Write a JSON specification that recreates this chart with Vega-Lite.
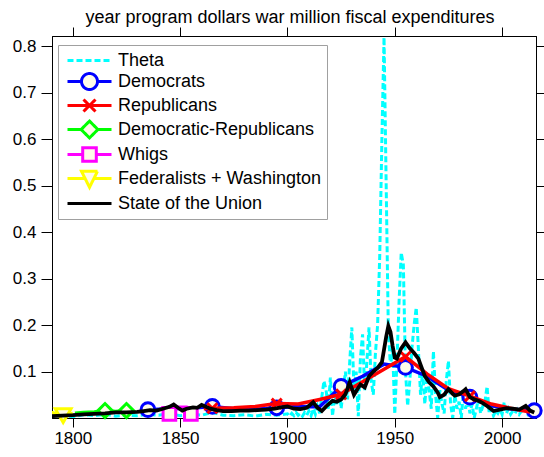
{
  "$schema": "https://vega.github.io/schema/vega-lite/v6.json",
  "width": 484,
  "height": 382,
  "autosize": {"type": "none"},
  "padding": {"left": 52, "top": 36, "right": 8, "bottom": 39},
  "background": "white",
  "title": {"text": "year program dollars war million fiscal expenditures", "fontSize": 18, "font": "Liberation Sans", "fontWeight": "normal", "color": "black", "offset": 0, "anchor": "middle", "dx": -4},
  "config": {
    "view": {"stroke": "black", "strokeWidth": 1},
    "axis": {"grid": false, "domainColor": "black", "domainWidth": 1, "tickColor": "black", "tickWidth": 1, "labelColor": "black", "labelFont": "Liberation Sans", "labelFontSize": 17, "title": null}
  },
  "datasets": {
    "d": [
      {"s":"Theta","x":1790,"y":0.004},{"s":"Theta","x":1795,"y":0.006},{"s":"Theta","x":1800,"y":0.003},{"s":"Theta","x":1805,"y":0.007},{"s":"Theta","x":1810,"y":0.005},{"s":"Theta","x":1815,"y":0.008},{"s":"Theta","x":1820,"y":0.004},{"s":"Theta","x":1825,"y":0.006},{"s":"Theta","x":1830,"y":0.005},{"s":"Theta","x":1835,"y":0.008},{"s":"Theta","x":1840,"y":0.006},{"s":"Theta","x":1845,"y":0.01},{"s":"Theta","x":1850,"y":0.005},{"s":"Theta","x":1855,"y":0.008},{"s":"Theta","x":1860,"y":0.006},{"s":"Theta","x":1865,"y":0.012},{"s":"Theta","x":1870,"y":0.006},{"s":"Theta","x":1875,"y":0.005},{"s":"Theta","x":1880,"y":0.007},{"s":"Theta","x":1885,"y":0.004},{"s":"Theta","x":1890,"y":0.008},{"s":"Theta","x":1895,"y":0.006},{"s":"Theta","x":1900,"y":0.009},
      {"s":"Theta","x":1901,"y":0.004},{"s":"Theta","x":1902,"y":0.01},{"s":"Theta","x":1903,"y":0.005},{"s":"Theta","x":1904,"y":0.012},{"s":"Theta","x":1905,"y":0.006},{"s":"Theta","x":1906,"y":0.01},{"s":"Theta","x":1907,"y":0.004},{"s":"Theta","x":1908,"y":0.012},{"s":"Theta","x":1909,"y":0.006},{"s":"Theta","x":1910,"y":0.015},{"s":"Theta","x":1911,"y":0.005},{"s":"Theta","x":1912,"y":0.02},{"s":"Theta","x":1913,"y":0.008},{"s":"Theta","x":1914,"y":0.025},{"s":"Theta","x":1915,"y":0.01},{"s":"Theta","x":1916,"y":0.045},{"s":"Theta","x":1917,"y":0.08},{"s":"Theta","x":1918,"y":0.06},{"s":"Theta","x":1919,"y":0.02},{"s":"Theta","x":1920,"y":0.087},
      {"s":"Theta","x":1921,"y":0.004},{"s":"Theta","x":1922,"y":0.05},{"s":"Theta","x":1923,"y":0.03},{"s":"Theta","x":1924,"y":0.08},{"s":"Theta","x":1925,"y":0.02},{"s":"Theta","x":1926,"y":0.06},{"s":"Theta","x":1927,"y":0.1},{"s":"Theta","x":1928,"y":0.04},{"s":"Theta","x":1929,"y":0.12},{"s":"Theta","x":1930,"y":0.195},{"s":"Theta","x":1931,"y":0.06},{"s":"Theta","x":1932,"y":0.1},{"s":"Theta","x":1933,"y":0.004},{"s":"Theta","x":1934,"y":0.13},{"s":"Theta","x":1935,"y":0.18},{"s":"Theta","x":1936,"y":0.06},{"s":"Theta","x":1937,"y":0.12},{"s":"Theta","x":1938,"y":0.195},{"s":"Theta","x":1939,"y":0.08},{"s":"Theta","x":1940,"y":0.05},
      {"s":"Theta","x":1941,"y":0.14},{"s":"Theta","x":1942,"y":0.2},{"s":"Theta","x":1943,"y":0.35},{"s":"Theta","x":1944,"y":0.6},{"s":"Theta","x":1945,"y":0.82},{"s":"Theta","x":1946,"y":0.5},{"s":"Theta","x":1947,"y":0.19},{"s":"Theta","x":1948,"y":0.11},{"s":"Theta","x":1949,"y":0.15},{"s":"Theta","x":1950,"y":0.008},{"s":"Theta","x":1951,"y":0.12},{"s":"Theta","x":1952,"y":0.25},{"s":"Theta","x":1953,"y":0.356},{"s":"Theta","x":1954,"y":0.33},{"s":"Theta","x":1955,"y":0.1},{"s":"Theta","x":1956,"y":0.026},{"s":"Theta","x":1957,"y":0.08},{"s":"Theta","x":1958,"y":0.15},{"s":"Theta","x":1959,"y":0.2},{"s":"Theta","x":1960,"y":0.238},
      {"s":"Theta","x":1961,"y":0.15},{"s":"Theta","x":1962,"y":0.05},{"s":"Theta","x":1963,"y":0.1},{"s":"Theta","x":1964,"y":0.03},{"s":"Theta","x":1965,"y":0.09},{"s":"Theta","x":1966,"y":0.06},{"s":"Theta","x":1967,"y":0.02},{"s":"Theta","x":1968,"y":0.144},{"s":"Theta","x":1969,"y":0.05},{"s":"Theta","x":1970,"y":0.0},{"s":"Theta","x":1971,"y":0.06},{"s":"Theta","x":1972,"y":0.03},{"s":"Theta","x":1973,"y":0.01},{"s":"Theta","x":1974,"y":0.08},{"s":"Theta","x":1975,"y":0.123},{"s":"Theta","x":1976,"y":0.03},{"s":"Theta","x":1977,"y":0.0},{"s":"Theta","x":1978,"y":0.05},{"s":"Theta","x":1979,"y":0.02},{"s":"Theta","x":1980,"y":0.035},
      {"s":"Theta","x":1981,"y":0.0},{"s":"Theta","x":1982,"y":0.06},{"s":"Theta","x":1983,"y":0.02},{"s":"Theta","x":1984,"y":0.045},{"s":"Theta","x":1985,"y":0.01},{"s":"Theta","x":1986,"y":0.03},{"s":"Theta","x":1987,"y":0.0},{"s":"Theta","x":1988,"y":0.02},{"s":"Theta","x":1989,"y":0.04},{"s":"Theta","x":1990,"y":0.01},{"s":"Theta","x":1991,"y":0.025},{"s":"Theta","x":1992,"y":0.035},{"s":"Theta","x":1993,"y":0.068},{"s":"Theta","x":1994,"y":0.01},{"s":"Theta","x":1995,"y":0.02},{"s":"Theta","x":1996,"y":0.005},{"s":"Theta","x":1997,"y":0.015},{"s":"Theta","x":1998,"y":0.01},{"s":"Theta","x":1999,"y":0.02},{"s":"Theta","x":2000,"y":0.008},
      {"s":"Theta","x":2001,"y":0.034},{"s":"Theta","x":2002,"y":0.01},{"s":"Theta","x":2003,"y":0.02},{"s":"Theta","x":2004,"y":0.008},{"s":"Theta","x":2005,"y":0.015},{"s":"Theta","x":2006,"y":0.01},{"s":"Theta","x":2007,"y":0.018},{"s":"Theta","x":2008,"y":0.008},{"s":"Theta","x":2009,"y":0.015},{"s":"Theta","x":2010,"y":0.01},{"s":"Theta","x":2011,"y":0.02},{"s":"Theta","x":2012,"y":0.008},{"s":"Theta","x":2013,"y":0.012},{"s":"Theta","x":2014,"y":0.01},{"s":"Theta","x":2015,"y":0.01},

      {"s":"Democrats","x":1835,"y":0.018,"m":1},{"s":"Democrats","x":1845,"y":0.02},{"s":"Democrats","x":1855,"y":0.021},{"s":"Democrats","x":1865,"y":0.025,"m":1},{"s":"Democrats","x":1875,"y":0.02},{"s":"Democrats","x":1885,"y":0.019},{"s":"Democrats","x":1895,"y":0.022,"m":1},{"s":"Democrats","x":1905,"y":0.025},{"s":"Democrats","x":1915,"y":0.024},{"s":"Democrats","x":1925,"y":0.068,"m":1},{"s":"Democrats","x":1935,"y":0.09},{"s":"Democrats","x":1945,"y":0.116},{"s":"Democrats","x":1955,"y":0.109,"m":1},{"s":"Democrats","x":1965,"y":0.09},{"s":"Democrats","x":1975,"y":0.06},{"s":"Democrats","x":1985,"y":0.045,"m":1},{"s":"Democrats","x":1995,"y":0.026},{"s":"Democrats","x":2005,"y":0.019},{"s":"Democrats","x":2015,"y":0.016,"m":1},

      {"s":"Republicans","x":1861,"y":0.02},{"s":"Republicans","x":1865,"y":0.021,"m":1},{"s":"Republicans","x":1875,"y":0.022},{"s":"Republicans","x":1885,"y":0.025},{"s":"Republicans","x":1895,"y":0.031,"m":1},{"s":"Republicans","x":1905,"y":0.03},{"s":"Republicans","x":1915,"y":0.04},{"s":"Republicans","x":1925,"y":0.051,"m":1},{"s":"Republicans","x":1935,"y":0.078},{"s":"Republicans","x":1945,"y":0.105},{"s":"Republicans","x":1955,"y":0.132,"m":1},{"s":"Republicans","x":1965,"y":0.095},{"s":"Republicans","x":1975,"y":0.063},{"s":"Republicans","x":1985,"y":0.047,"m":1},{"s":"Republicans","x":1995,"y":0.03},{"s":"Republicans","x":2005,"y":0.02},{"s":"Republicans","x":2013,"y":0.013},

      {"s":"Democratic-Republicans","x":1801,"y":0.01},{"s":"Democratic-Republicans","x":1805,"y":0.012},{"s":"Democratic-Republicans","x":1810,"y":0.013},{"s":"Democratic-Republicans","x":1815,"y":0.016,"m":1},{"s":"Democratic-Republicans","x":1820,"y":0.014},{"s":"Democratic-Republicans","x":1825,"y":0.016,"m":1},{"s":"Democratic-Republicans","x":1829,"y":0.013},

      {"s":"Whigs","x":1841,"y":0.023},{"s":"Whigs","x":1845,"y":0.009,"m":1},{"s":"Whigs","x":1849,"y":0.023},{"s":"Whigs","x":1853,"y":0.023},{"s":"Whigs","x":1855,"y":0.009,"m":1},{"s":"Whigs","x":1857,"y":0.02},

      {"s":"Federalists + Washington","x":1790,"y":0.012},{"s":"Federalists + Washington","x":1795.5,"y":0.005,"m":1},{"s":"Federalists + Washington","x":1800,"y":0.01},

      {"s":"State of the Union","x":1790,"y":0.004},{"s":"State of the Union","x":1795,"y":0.005},{"s":"State of the Union","x":1800,"y":0.006},{"s":"State of the Union","x":1805,"y":0.008},{"s":"State of the Union","x":1810,"y":0.009},{"s":"State of the Union","x":1815,"y":0.01},{"s":"State of the Union","x":1820,"y":0.012},{"s":"State of the Union","x":1825,"y":0.012},{"s":"State of the Union","x":1830,"y":0.013},{"s":"State of the Union","x":1833,"y":0.015},{"s":"State of the Union","x":1836,"y":0.017},{"s":"State of the Union","x":1839,"y":0.016},{"s":"State of the Union","x":1842,"y":0.02},{"s":"State of the Union","x":1845,"y":0.024},{"s":"State of the Union","x":1847,"y":0.029},{"s":"State of the Union","x":1849,"y":0.022},{"s":"State of the Union","x":1851,"y":0.016},{"s":"State of the Union","x":1853,"y":0.02},{"s":"State of the Union","x":1856,"y":0.023},{"s":"State of the Union","x":1858,"y":0.022},{"s":"State of the Union","x":1860,"y":0.028},{"s":"State of the Union","x":1862,"y":0.024},{"s":"State of the Union","x":1864,"y":0.02},{"s":"State of the Union","x":1867,"y":0.017},{"s":"State of the Union","x":1870,"y":0.015},{"s":"State of the Union","x":1874,"y":0.015},{"s":"State of the Union","x":1878,"y":0.016},{"s":"State of the Union","x":1882,"y":0.016},{"s":"State of the Union","x":1886,"y":0.017},{"s":"State of the Union","x":1890,"y":0.018},{"s":"State of the Union","x":1894,"y":0.02},{"s":"State of the Union","x":1897,"y":0.023},{"s":"State of the Union","x":1900,"y":0.025},{"s":"State of the Union","x":1903,"y":0.02},{"s":"State of the Union","x":1906,"y":0.019},{"s":"State of the Union","x":1909,"y":0.022},{"s":"State of the Union","x":1912,"y":0.034},{"s":"State of the Union","x":1914,"y":0.022},{"s":"State of the Union","x":1916,"y":0.015},{"s":"State of the Union","x":1918,"y":0.025},{"s":"State of the Union","x":1921,"y":0.037},{"s":"State of the Union","x":1923,"y":0.035},{"s":"State of the Union","x":1925,"y":0.04},{"s":"State of the Union","x":1927,"y":0.051},{"s":"State of the Union","x":1929,"y":0.077},{"s":"State of the Union","x":1931,"y":0.05},{"s":"State of the Union","x":1933,"y":0.065},{"s":"State of the Union","x":1934,"y":0.072},{"s":"State of the Union","x":1936,"y":0.066},{"s":"State of the Union","x":1938,"y":0.09},{"s":"State of the Union","x":1940,"y":0.1},{"s":"State of the Union","x":1942,"y":0.108},{"s":"State of the Union","x":1944,"y":0.12},{"s":"State of the Union","x":1946,"y":0.175},{"s":"State of the Union","x":1947,"y":0.198},{"s":"State of the Union","x":1948,"y":0.185},{"s":"State of the Union","x":1949,"y":0.155},{"s":"State of the Union","x":1950,"y":0.13},{"s":"State of the Union","x":1951,"y":0.128},{"s":"State of the Union","x":1953,"y":0.15},{"s":"State of the Union","x":1955,"y":0.163},{"s":"State of the Union","x":1957,"y":0.15},{"s":"State of the Union","x":1959,"y":0.14},{"s":"State of the Union","x":1961,"y":0.128},{"s":"State of the Union","x":1962,"y":0.115},{"s":"State of the Union","x":1964,"y":0.09},{"s":"State of the Union","x":1966,"y":0.077},{"s":"State of the Union","x":1968,"y":0.068},{"s":"State of the Union","x":1970,"y":0.055},{"s":"State of the Union","x":1971,"y":0.045},{"s":"State of the Union","x":1973,"y":0.05},{"s":"State of the Union","x":1975,"y":0.062},{"s":"State of the Union","x":1977,"y":0.052},{"s":"State of the Union","x":1978,"y":0.048},{"s":"State of the Union","x":1980,"y":0.051},{"s":"State of the Union","x":1982,"y":0.058},{"s":"State of the Union","x":1983,"y":0.062},{"s":"State of the Union","x":1985,"y":0.045},{"s":"State of the Union","x":1987,"y":0.04},{"s":"State of the Union","x":1989,"y":0.037},{"s":"State of the Union","x":1991,"y":0.032},{"s":"State of the Union","x":1993,"y":0.026},{"s":"State of the Union","x":1996,"y":0.015},{"s":"State of the Union","x":1999,"y":0.018},{"s":"State of the Union","x":2002,"y":0.021},{"s":"State of the Union","x":2005,"y":0.02},{"s":"State of the Union","x":2008,"y":0.018},{"s":"State of the Union","x":2011,"y":0.026},{"s":"State of the Union","x":2013,"y":0.016},{"s":"State of the Union","x":2015,"y":0.012}
    ]
  },
  "resolve": {"axis": {"x": "independent", "y": "independent"}},
  "layer": [
    {
      "data": {"name": "d"},
      "transform": [{"filter": "datum.s === 'Theta'"}],
      "mark": {"type": "line", "stroke": "#00ffff", "strokeWidth": 3, "strokeDash": [6, 3], "strokeCap": "butt", "clip": true},
      "encoding": {
        "x": {"field": "x", "type": "quantitative", "scale": {"domain": [1790.3, 2015.8], "nice": false, "zero": false}, "axis": {"orient": "bottom", "values": [1800, 1850, 1900, 1950, 2000], "format": "d", "tickSize": 9, "labelPadding": 3}},
        "y": {"field": "y", "type": "quantitative", "scale": {"domain": [0, 0.8226], "nice": false}, "axis": {"orient": "left", "values": [0.1, 0.2, 0.3, 0.4, 0.5, 0.6, 0.7, 0.8], "format": ".1f", "tickSize": 11, "labelPadding": 5}}
      }
    },
    {
      "data": {"name": "d"},
      "transform": [{"filter": "datum.s === 'Democrats'"}],
      "mark": {"type": "line", "stroke": "#0000ff", "strokeWidth": 3.5, "clip": true},
      "encoding": {
        "x": {"field": "x", "type": "quantitative", "axis": null},
        "y": {"field": "y", "type": "quantitative", "axis": null}
      }
    },
    {
      "data": {"name": "d"},
      "transform": [{"filter": "datum.s === 'Democrats' && datum.m === 1"}],
      "mark": {"type": "point", "shape": "circle", "filled": true, "fill": "#fffbe8", "stroke": "#0000ff", "strokeWidth": 3, "size": 190, "opacity": 1},
      "encoding": {
        "x": {"field": "x", "type": "quantitative", "axis": null},
        "y": {"field": "y", "type": "quantitative", "axis": null}
      }
    },
    {
      "data": {"name": "d"},
      "transform": [{"filter": "datum.s === 'Republicans'"}],
      "mark": {"type": "line", "stroke": "#ff0000", "strokeWidth": 3.5, "clip": true},
      "encoding": {
        "x": {"field": "x", "type": "quantitative", "axis": null},
        "y": {"field": "y", "type": "quantitative", "axis": null}
      }
    },
    {
      "data": {"name": "d"},
      "transform": [{"filter": "datum.s === 'Republicans' && datum.m === 1"}],
      "mark": {"type": "point", "shape": "M-1,-1L1,1M-1,1L1,-1", "filled": false, "stroke": "#ff0000", "strokeWidth": 3, "size": 100, "opacity": 1},
      "encoding": {
        "x": {"field": "x", "type": "quantitative", "axis": null},
        "y": {"field": "y", "type": "quantitative", "axis": null}
      }
    },
    {
      "data": {"name": "d"},
      "transform": [{"filter": "datum.s === 'Democratic-Republicans'"}],
      "mark": {"type": "line", "stroke": "#00ff00", "strokeWidth": 3.5, "clip": true},
      "encoding": {
        "x": {"field": "x", "type": "quantitative", "axis": null},
        "y": {"field": "y", "type": "quantitative", "axis": null}
      }
    },
    {
      "data": {"name": "d"},
      "transform": [{"filter": "datum.s === 'Democratic-Republicans' && datum.m === 1"}],
      "mark": {"type": "point", "shape": "diamond", "filled": true, "fill": "#fffbe8", "stroke": "#00ff00", "strokeWidth": 3, "size": 200, "opacity": 1},
      "encoding": {
        "x": {"field": "x", "type": "quantitative", "axis": null},
        "y": {"field": "y", "type": "quantitative", "axis": null}
      }
    },
    {
      "data": {"name": "d"},
      "transform": [{"filter": "datum.s === 'Whigs'"}],
      "mark": {"type": "line", "stroke": "#ff00ff", "strokeWidth": 3.5, "clip": true},
      "encoding": {
        "x": {"field": "x", "type": "quantitative", "axis": null},
        "y": {"field": "y", "type": "quantitative", "axis": null}
      }
    },
    {
      "data": {"name": "d"},
      "transform": [{"filter": "datum.s === 'Whigs' && datum.m === 1"}],
      "mark": {"type": "point", "shape": "square", "filled": true, "fill": "#fffbe8", "stroke": "#ff00ff", "strokeWidth": 3, "size": 160, "opacity": 1},
      "encoding": {
        "x": {"field": "x", "type": "quantitative", "axis": null},
        "y": {"field": "y", "type": "quantitative", "axis": null}
      }
    },
    {
      "data": {"name": "d"},
      "transform": [{"filter": "datum.s === 'Federalists + Washington'"}],
      "mark": {"type": "line", "stroke": "#ffff00", "strokeWidth": 3.5, "clip": true},
      "encoding": {
        "x": {"field": "x", "type": "quantitative", "axis": null},
        "y": {"field": "y", "type": "quantitative", "axis": null}
      }
    },
    {
      "data": {"name": "d"},
      "transform": [{"filter": "datum.s === 'Federalists + Washington' && datum.m === 1"}],
      "mark": {"type": "point", "shape": "triangle-down", "filled": true, "fill": "#fffbe8", "stroke": "#ffff00", "strokeWidth": 3, "size": 250, "opacity": 1},
      "encoding": {
        "x": {"field": "x", "type": "quantitative", "axis": null},
        "y": {"field": "y", "type": "quantitative", "axis": null}
      }
    },
    {
      "data": {"name": "d"},
      "transform": [{"filter": "datum.s === 'State of the Union'"}],
      "mark": {"type": "line", "stroke": "#000000", "strokeWidth": 3.8, "clip": true},
      "encoding": {
        "x": {"field": "x", "type": "quantitative", "axis": null},
        "y": {"field": "y", "type": "quantitative", "axis": null}
      }
    },
    {
      "data": {"name": "d"},
      "transform": [{"filter": "datum.x < 0"}],
      "mark": {"type": "point", "fill": "#fffbe8", "filled": false, "strokeWidth": 3, "size": 256, "opacity": 1},
      "encoding": {
        "x": {"field": "x", "type": "quantitative", "axis": {"orient": "top", "values": [1800, 1850, 1900, 1950, 2000], "labels": false, "tickSize": 9}},
        "y": {"field": "y", "type": "quantitative", "axis": {"orient": "right", "values": [0.1, 0.2, 0.3, 0.4, 0.5, 0.6, 0.7, 0.8], "labels": false, "tickSize": 8}},
        "stroke": {"field": "s", "type": "nominal",
          "scale": {"domain": ["Theta", "Democrats", "Republicans", "Democratic-Republicans", "Whigs", "Federalists + Washington", "State of the Union"], "range": ["#00ffff", "#0000ff", "#ff0000", "#00ff00", "#ff00ff", "#ffff00", "#000000"]},
          "legend": {"title": null, "orient": "none", "legendX": 6, "legendY": 9, "padding": 6, "strokeColor": "#a0a0a0", "fillColor": "white", "symbolSize": 256, "symbolStrokeWidth": 3, "symbolOffset": 16, "labelOffset": 19, "labelFontSize": 18, "labelFont": "Liberation Sans", "labelColor": "black", "labelLimit": 400, "rowPadding": -3, "symbolFillColor": "#fffbe8", "symbolOpacity": 1}},
        "shape": {"field": "s", "type": "nominal",
          "scale": {"domain": ["Theta", "Democrats", "Republicans", "Democratic-Republicans", "Whigs", "Federalists + Washington", "State of the Union"], "range": ["M-2.75,0H2.75", "M-2.75,0H-1M1,0H2.75M-1,0A1,1 0 1,1 1,0A1,1 0 1,1 -1,0Z", "M-2.75,0H2.75M-0.75,-0.75L0.75,0.75M-0.75,0.75L0.75,-0.75", "M-2.75,0H-1.05M1.05,0H2.75M-1.05,0L0,-1.05L1.05,0L0,1.05Z", "M-2.75,0H-0.85M0.85,0H2.75M-0.85,-0.85H0.85V0.85H-0.85Z", "M-2.75,0H-0.62M0.62,0H2.75M-1,-0.9H1L0,1.1Z", "M-2.75,0H2.75"]},
          "legend": {"title": null, "orient": "none", "legendX": 6, "legendY": 9, "padding": 6, "strokeColor": "#a0a0a0", "fillColor": "white", "symbolSize": 256, "symbolStrokeWidth": 3, "symbolOffset": 16, "labelOffset": 19, "labelFontSize": 18, "labelFont": "Liberation Sans", "labelColor": "black", "labelLimit": 400, "rowPadding": -3, "symbolFillColor": "#fffbe8", "symbolOpacity": 1}},
        "strokeDash": {"field": "s", "type": "nominal",
          "scale": {"domain": ["Theta", "Democrats", "Republicans", "Democratic-Republicans", "Whigs", "Federalists + Washington", "State of the Union"], "range": [[6, 3], [1, 0], [1, 0], [1, 0], [1, 0], [1, 0], [1, 0]]},
          "legend": {"title": null, "orient": "none", "legendX": 6, "legendY": 9, "padding": 6, "strokeColor": "#a0a0a0", "fillColor": "white", "symbolSize": 256, "symbolStrokeWidth": 3, "symbolOffset": 16, "labelOffset": 19, "labelFontSize": 18, "labelFont": "Liberation Sans", "labelColor": "black", "labelLimit": 400, "rowPadding": -3, "symbolFillColor": "#fffbe8", "symbolOpacity": 1}}
      }
    }
  ]
}
